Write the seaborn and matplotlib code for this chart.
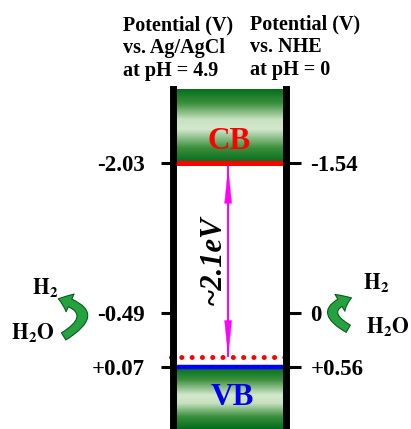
import numpy as np
import matplotlib
matplotlib.use("Agg")
import matplotlib.pyplot as plt
from matplotlib.patches import FancyArrowPatch
from matplotlib.colors import LinearSegmentedColormap
import seaborn as sns

# Band-edge potentials on the Ag/AgCl scale (pH 4.9), in V
cb_level = -2.03
vb_level = 0.07
h2_level = -0.49          # H2O/H2 couple, 0 V vs. NHE
trap_level = -0.03        # dotted level the gap arrow ends on
# Shift from the Ag/AgCl (pH 4.9) scale to the NHE (pH 0) scale
nhe_shift = 0.49

left_ticks = [-2.03, -0.49, 0.07]
left_labels = ["-2.03", "-0.49", "+0.07"]
right_ticks = [-1.54, 0.0, 0.56]
right_labels = ["-1.54", "0", "+0.56"]
gap_text = "~2.1eV"
left_header = "Potential (V)\nvs. Ag/AgCl\nat pH = 4.9"
right_header = "Potential (V)\nvs. NHE\nat pH = 0"

sns.set_style("white")
plt.rcParams["font.family"] = ["Liberation Serif", "DejaVu Serif"]
plt.rcParams["font.weight"] = "bold"
plt.rcParams["mathtext.fontset"] = "stix"
for key in ["text.color", "axes.labelcolor", "xtick.color", "ytick.color"]:
    plt.rcParams[key] = "black"

W, H = 411, 429
fig = plt.figure(figsize=(W / 100, H / 100), dpi=100)
ax = fig.add_axes([172.5 / W, 0, (286 - 172.5) / W, 340 / H])
ax.set_facecolor("none")

y_bottom, y_top = 0.708, -2.792

# Green shaded band blocks
green = LinearSegmentedColormap.from_list(
    "band", [(0.0, "#006d1c"), (0.2, "#3a8f3c"), (0.42, "#c8e2c0"),
             (0.55, "#d3e8cc"), (0.8, "#3a8f3c"), (1.0, "#006d1c")])
grad = np.linspace(0, 1, 256).reshape(-1, 1)
ax.imshow(grad, cmap=green, aspect="auto", extent=(0, 1, cb_level, y_top),
          origin="upper", zorder=0)
ax.imshow(grad, cmap=green, aspect="auto", extent=(0.035, 1, y_bottom, vb_level),
          origin="lower", zorder=0)

# Band edges
sns.lineplot(x=[0, 1], y=[cb_level, cb_level], ax=ax, color="#ff0000",
             lw=3.6, solid_capstyle="butt", zorder=3)
sns.lineplot(x=[-0.02, 1.01], y=[vb_level, vb_level], ax=ax, color="#0000ff",
             lw=3.2, solid_capstyle="butt", zorder=3)
ax.plot([-0.01, 1.0], [trap_level, trap_level], color="#ff0000", lw=3.6,
        linestyle=(0, (0.01, 2.05)), dash_capstyle="round", zorder=3,
        clip_on=False)

# Gap arrow: shaft plus two slim heads
ax.plot([0.49, 0.49], [cb_level, trap_level], color="#ff00ff", lw=1.4,
        solid_capstyle="butt", zorder=2)
ax.add_patch(FancyArrowPatch((0.49, cb_level), (0.49, trap_level),
                             arrowstyle="<|-|>,head_length=2.5,head_width=0.25",
                             mutation_scale=10, color="#ff00ff", lw=0.3,
                             shrinkA=2.5, shrinkB=0, zorder=2))
ax.text(0.357, (cb_level + trap_level) / 2, gap_text, rotation=90,
        ha="center", va="center", fontsize=22, fontweight="bold",
        fontstyle="italic")

ax.text(0.50, cb_level - 0.145, "CB", ha="center", va="baseline",
        fontsize=22.5, fontweight="bold", color="#ff0000")
ax.text(0.53, vb_level + 0.39, "VB", ha="center", va="baseline",
        fontsize=22.5, fontweight="bold", color="#0000ee")

# Water reduction arrows next to both scales
arrow_style = "simple,head_length=0.9,head_width=1.4,tail_width=0.6"
ax.add_patch(FancyArrowPatch((-0.98, h2_level + 0.26), (-1.03, h2_level - 0.15),
                             connectionstyle="arc3,rad=1.2", arrowstyle=arrow_style,
                             mutation_scale=10, fc="#23a23f", ec="#0b5a1e",
                             lw=0.8, clip_on=False))
ax.add_patch(FancyArrowPatch((1.57, h2_level + 0.18), (1.6, h2_level - 0.16),
                             connectionstyle="arc3,rad=-1.2", arrowstyle=arrow_style,
                             mutation_scale=10, fc="#23a23f", ec="#0b5a1e",
                             lw=0.8, clip_on=False))
for x, dy, s in [(-1.12, -0.25, r"$\mathbf{H_2}$"), (-1.23, 0.21, r"$\mathbf{H_2O}$"),
                 (1.795, -0.305, r"$\mathbf{H_2}$"), (1.90, 0.15, r"$\mathbf{H_2O}$")]:
    ax.text(x, h2_level + dy, s, ha="center", va="center", fontsize=15.5,
            clip_on=False)

# Axes: two potential scales
ax.set_xlim(0, 1)
ax.set_ylim(y_bottom, y_top)
ax.set_xticks([])
for side in ["top", "bottom"]:
    ax.spines[side].set_visible(False)
for side in ["left", "right"]:
    ax.spines[side].set_visible(True)
    ax.spines[side].set_linewidth(5)
    ax.spines[side].set_color("black")
    ax.spines[side].set_zorder(5)
ax.set_yticks(left_ticks)
ax.set_yticklabels(left_labels)
ax.tick_params(axis="y", which="both", left=True, right=False, direction="out",
               length=9, width=2.2, pad=11, labelsize=16.5, color="black")

ax2 = ax.twinx()
ax2.set_ylim(y_bottom + nhe_shift, y_top + nhe_shift)
for side in ax2.spines:
    ax2.spines[side].set_visible(False)
ax2.set_yticks(right_ticks)
ax2.set_yticklabels(right_labels)
ax2.tick_params(axis="y", right=True, direction="out", length=10.5, width=2.2,
                pad=7, labelsize=16.5, color="black")
for t in ax.get_yticklabels() + ax2.get_yticklabels():
    t.set_fontweight("bold")

fig.text(123 / W, 1 - 15 / H, left_header, ha="left", va="top", fontsize=14.5,
         fontweight="bold", linespacing=1.2)
fig.text(250 / W, 1 - 14 / H, right_header, ha="left", va="top", fontsize=14.5,
         fontweight="bold", linespacing=1.2)

fig.savefig("out.png", dpi=100)
